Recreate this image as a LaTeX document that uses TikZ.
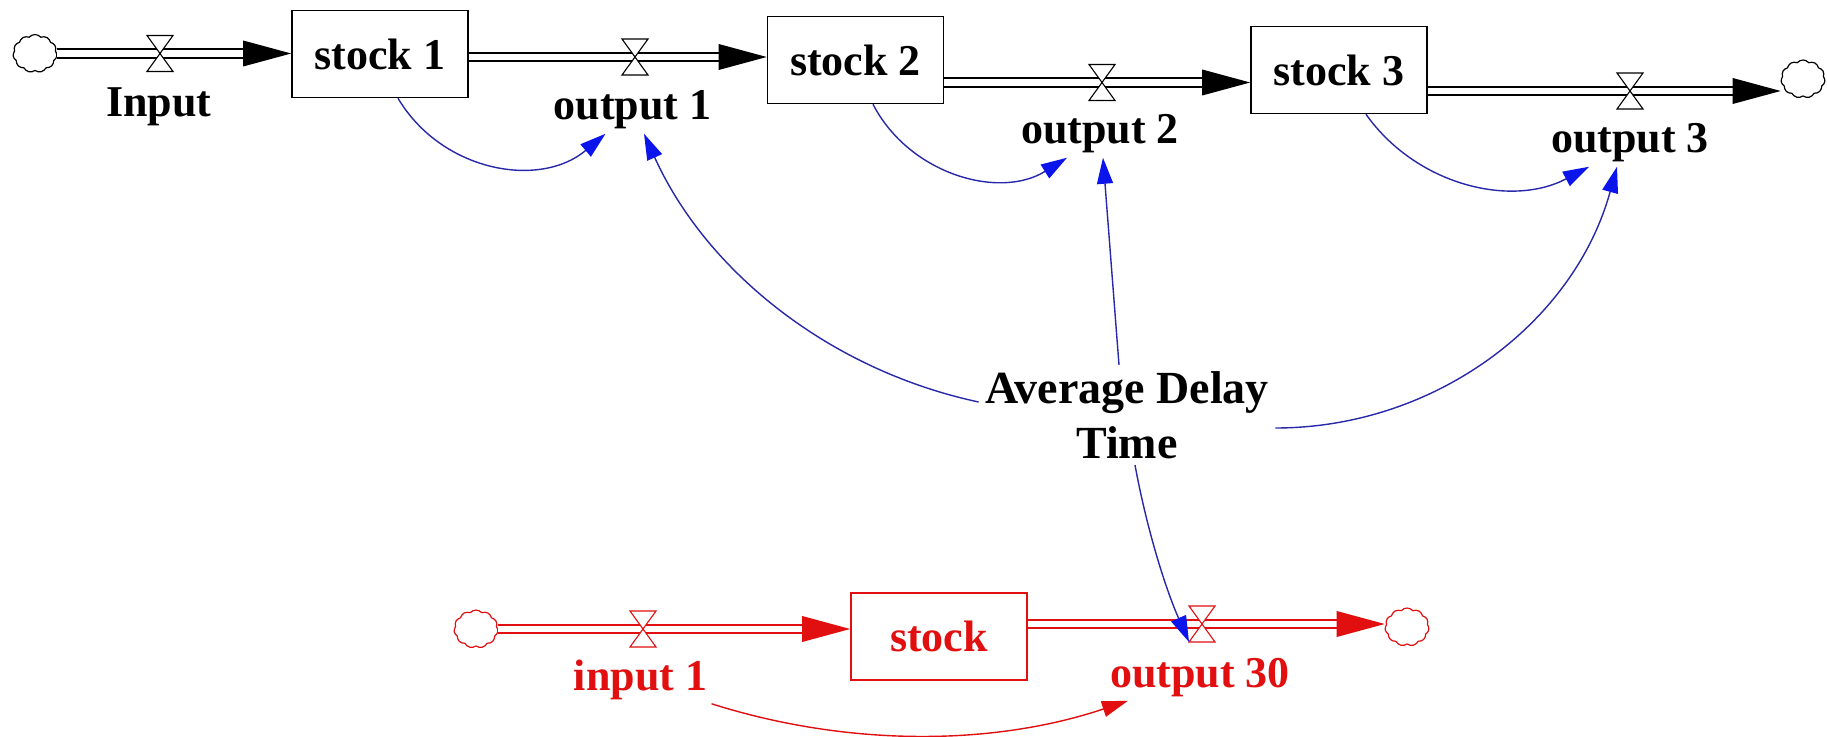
\documentclass[tikz,border=0pt]{standalone}
\usepackage{fontspec}
\setmainfont{Liberation Serif}
\usetikzlibrary{arrows.meta,shapes.symbols}
\definecolor{linkline}{RGB}{40,40,170}
\definecolor{linkhead}{RGB}{10,20,235}
\definecolor{flowred}{RGB}{225,15,15}
\newcommand\diagfont{\fontsize{22}{27.5}\selectfont\bfseries}
\newcommand\bigdiagfont{\fontsize{23}{27.5}\selectfont\bfseries}
% material flow: double pipe with a filled head at its end
\newcommand\flowpipe[3][black]{%
  \draw[flowline,draw=#1,shorten >=12pt] (#2) -- (#3);
  \fill[#1] (#3) -- ++(-24pt,6.5pt) -- ++(0pt,-13pt) -- cycle;}
% hourglass valve drawn on a valve node
\newcommand\valve[2][black]{%
  \draw[valveline,draw=#1] (#2.north west) -- (#2.north east) -- (#2.south west) -- (#2.south east) -- cycle;}
\begin{document}
\begin{tikzpicture}[x=0.5pt,y=-0.5pt,
  stockbox/.style={draw, line width=0.8pt, fill=white, minimum width=88pt, minimum height=43.5pt, inner sep=0pt, font=\diagfont},
  varlabel/.style={font=\diagfont, inner sep=2pt, anchor=base},
  flowline/.style={line width=0.9pt, double=white, double distance=3.4pt},
  valvenode/.style={minimum width=13pt, minimum height=18pt, inner sep=0pt, outer sep=0pt},
  valveline/.style={line width=0.55pt, fill=white, line join=miter},
  cloudsrc/.style={cloud, cloud puffs=11, cloud puff arc=100, aspect=1.15, draw, line width=0.6pt, fill=white, minimum width=22pt, minimum height=19pt, inner sep=0pt},
  infolink/.style={draw=linkline, line width=0.7pt, -{Triangle[length=13pt,width=8pt,color=linkhead]}},
  redlink/.style={draw=flowred, line width=0.7pt, -{Triangle[length=13pt,width=8pt,color=flowred]}},
]
\fill[white] (0,0) rectangle (1827,737);
\useasboundingbox (0,0) rectangle (1827,737);

% stocks
\node[stockbox] (s1) at (380,54) {stock 1};
\node[stockbox] (s2) at (855.5,60) {stock 2};
\node[stockbox] (s3) at (1339,70) {stock 3};
\node[stockbox, draw=flowred, text=flowred] (rs) at (939,636.5) {stock};

% sources and sinks
\node[cloudsrc] (c0) at (35,53.5) {};
\node[cloudsrc] (c3) at (1803,79) {};
\node[cloudsrc, draw=flowred] (c4) at (476,629) {};
\node[cloudsrc, draw=flowred] (c5) at (1407,627) {};

% valve positions on the pipes
\node[valvenode] (v0) at (160,53.5) {};
\node[valvenode] (v1) at (635,57) {};
\node[valvenode] (v2) at (1102,82.5) {};
\node[valvenode] (v3) at (1630,91) {};
\node[valvenode] (v4) at (643,629) {};
\node[valvenode] (v5) at (1202,624) {};

% pipe attachment points
\coordinate (p1) at ([yshift=-1.5pt]s1.east);
\coordinate (p2) at ([yshift=-11.25pt]s2.east);
\coordinate (p3) at ([yshift=-10.5pt]s3.east);
\coordinate (p5) at ([yshift=6.25pt]rs.east);

% flows
\flowpipe{c0.east}{c0.east -| s1.west}
\flowpipe{p1}{p1 -| s2.west}
\flowpipe{p2}{p2 -| s3.west}
\flowpipe{p3}{p3 -| c3.west}
\flowpipe[flowred]{c4.east}{c4.east -| rs.west}
\flowpipe[flowred]{p5}{p5 -| c5.west}

\valve{v0}
\valve{v1}
\valve{v2}
\valve{v3}
\valve[flowred]{v4}
\valve[flowred]{v5}

% rate and auxiliary names
\node[varlabel] (inp) at (159,117) {Input};
\node[varlabel] (out1) at (632.5,120) {output 1};
\node[varlabel] (out2) at (1100,144) {output 2};
\node[varlabel] (out3) at (1630,153) {output 3};
\node[varlabel, text=flowred] (in1) at (640.5,690) {input 1};
\node[varlabel, text=flowred] (out30) at (1200,687) {output 30};
\node[font=\bigdiagfont, align=center, inner sep=3pt] (adt) at (1127,415) {Average Delay\\Time};

% information links
\draw[infolink] ([xshift=9pt]s1.south) .. controls (442,172) and (540,189) .. ([xshift=-13.5pt]out1.south);
\draw[infolink] ([xshift=8.75pt]s2.south) .. controls (909,174) and (999,200) .. ([xshift=-16.5pt]out2.south);
\draw[infolink] ([xshift=13.5pt]s3.south) .. controls (1416,185) and (1511,208) .. ([xshift=-20.5pt]out3.south);
\draw[infolink] ([yshift=6.5pt]adt.west) .. controls (829,370) and (706,271) .. ([xshift=5.75pt]out1.south);
\draw[infolink] ([xshift=-4pt]adt.north) -- ([xshift=1.5pt]out2.south);
\draw[infolink] ([yshift=-6.5pt]adt.east) .. controls (1435,428) and (1574,323) .. ([xshift=-6.5pt]out3.south);
\draw[infolink] ([xshift=4pt]adt.south) .. controls (1146,525) and (1164,585) .. (v5.south west);
\draw[redlink] (in1.south east) .. controls (848,747) and (993,746) .. ([xshift=-36pt]out30.south);
\end{tikzpicture}
\end{document}
